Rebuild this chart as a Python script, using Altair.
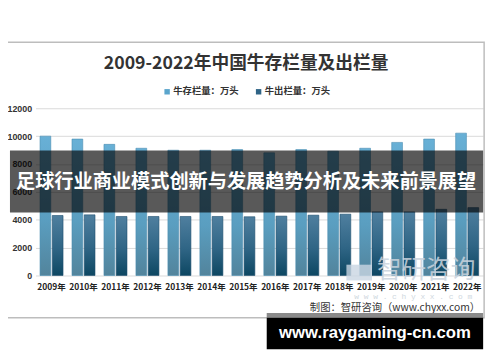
import altair as alt
import pandas as pd

years = ["2009年", "2010年", "2011年", "2012年", "2013年", "2014年", "2015年",
         "2016年", "2017年", "2018年", "2019年", "2020年", "2021年", "2022年"]
series = ["牛存栏量：万头", "牛出栏量：万头"]
stock = [10000, 9790, 9410, 9130, 8990, 8990, 9035, 8800, 9035, 8915, 9130, 9550, 9790, 10215]
slaughter = [4306, 4353, 4235, 4235, 4235, 4235, 4215, 4260, 4330, 4400, 4565, 4565, 4750, 4870]
y_ticks = [0, 2000, 4000, 6000, 8000, 10000, 12000]

rows = []
for i, yr in enumerate(years):
    rows.append({"year": yr, "series": series[0], "value": stock[i]})
    rows.append({"year": yr, "series": series[1], "value": slaughter[i]})
df = pd.DataFrame(rows)
one = pd.DataFrame({"k": [0]})

CJK = "Noto Sans CJK SC"
OX, OY = 36, 107  # page position of plot origin


def px(x):
    return alt.value(x - OX)


def py(y):
    return alt.value(y - OY)


def text(t, x, y, size, color, weight="bold", align="center", font=CJK, opacity=1.0):
    return alt.Chart(one).mark_text(
        text=t, fontSize=size, fontWeight=weight, color=color, align=align,
        baseline="middle", font=font, opacity=opacity
    ).encode(x=px(x), y=py(y))


def rect(x1, y1, x2, y2, **kw):
    return alt.Chart(one).mark_rect(**kw).encode(
        x=px(x1), x2=px(x2), y=py(y1), y2=py(y2))


grad_light = alt.Gradient(
    gradient="linear", x1=0, x2=0, y1=0, y2=1,
    stops=[alt.GradientStop(color="#68b0d6", offset=0),
           alt.GradientStop(color="#5a9ec0", offset=0.6),
           alt.GradientStop(color="#52849c", offset=1)])
grad_dark = alt.Gradient(
    gradient="linear", x1=0, x2=0, y1=0, y2=1,
    stops=[alt.GradientStop(color="#4f7f9f", offset=0),
           alt.GradientStop(color="#2f6585", offset=0.55),
           alt.GradientStop(color="#0d4762", offset=1)])

base = alt.Chart(df).encode(
    x=alt.X("year:N", sort=years, title=None,
            scale=alt.Scale(paddingInner=0.28, paddingOuter=0.14),
            axis=alt.Axis(labelAngle=0, labelFont=CJK, labelFontSize=8.6,
                          labelFontWeight="bold", labelColor="#222222",
                          labelPadding=7, ticks=False, domain=False)),
    xOffset=alt.XOffset("series:N", sort=series,
                        scale=alt.Scale(domain=series, paddingInner=0.12)),
    y=alt.Y("value:Q", title=None,
            scale=alt.Scale(domain=[0, 12000]),
            axis=alt.Axis(values=y_ticks, format="d", labelFont="Liberation Sans",
                          labelFontSize=9, labelFontWeight="bold",
                          labelColor="#333333", labelPadding=4, ticks=False,
                          domain=False, grid=True, gridColor="#d9d9d9",
                          gridWidth=1)),
)

bars_a = base.transform_filter(alt.datum.series == series[0]).mark_bar(
    color=grad_light, stroke="#4a8db0", strokeWidth=0.6)
bars_b = base.transform_filter(alt.datum.series == series[1]).mark_bar(
    color=grad_dark, stroke="#1e4f6c", strokeWidth=0.6)

frame = rect(1, 40, 492, 320, fillOpacity=0, stroke="#bdbdbd", strokeWidth=1.5)

title = text("2009-2022年中国牛存栏量及出栏量", 250, 62, 18, "#333333")
leg_sq1 = rect(167, 87.5, 172.5, 93, color="#5aa5cc")
leg_t1 = text(series[0], 176, 90, 9.5, "#333333", align="left")
leg_sq2 = rect(260, 87.5, 265.5, 93, color="#2f6486")
leg_t2 = text(series[1], 269, 90, 9.5, "#333333", align="left")

wm_logo = rect(352, 266, 378, 282, color="#c9d6e2", opacity=0.8)
wm_text = text("智研咨询", 433, 272, 25, "#c9d3dd", weight="normal", opacity=0.85)
wm_url = text("w w w . c h y x x . c o m", 420, 299, 8, "#cfd8e0", weight="normal",
              font="Liberation Mono")
source = text("制图：智研咨询（www.chyxx.com）", 488, 310, 10.5, "#333333",
              weight="normal", align="right")

banner = rect(10, 150, 491, 213, color="#000000", opacity=0.65)
banner_t = text("足球行业商业模式创新与发展趋势分析及未来前景展望", 250, 182, 19.5,
                "#ffffff")

strip = rect(271, 315, 491, 320, color="#8a8a8a")
box = rect(271, 320, 491, 352, color="#000000")
box_t = text("www.raygaming-cn.com", 381, 336, 17, "#ffffff",
             font="Liberation Sans")

chart = alt.layer(
    frame, bars_a, bars_b, title, leg_sq1, leg_t1, leg_sq2, leg_t2,
    wm_logo, wm_text, wm_url, source, banner, banner_t, strip, box, box_t
).properties(
    width=455, height=170,
    autosize=alt.AutoSizeParams(type="none"),
    padding={"left": 28, "top": 99, "right": 9, "bottom": 85},
    background="#ffffff",
).configure_view(stroke=None)

chart.save("out.html", embed_options={"renderer": "svg", "actions": False})
